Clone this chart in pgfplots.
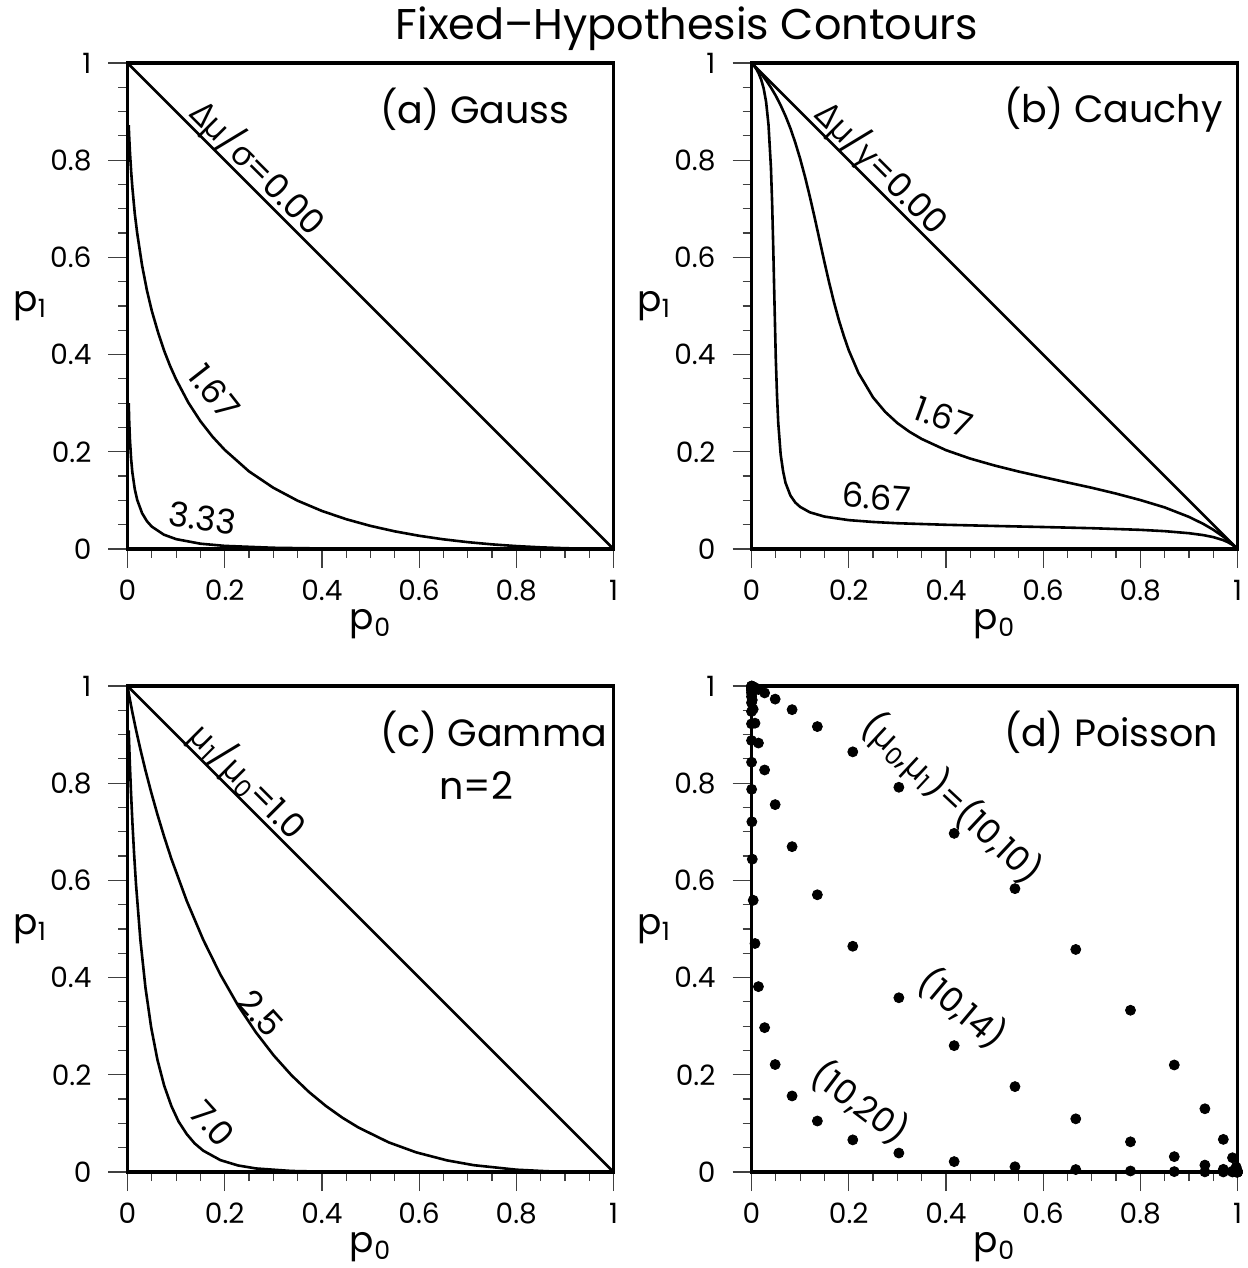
\documentclass[border=0pt]{standalone}
\usepackage{pgfplots}
\pgfplotsset{compat=1.18}
\usepackage{fontspec}
\setmainfont{Poppins}
\newfontfamily\gr{Open Sans}
\newcommand\ticksize{\fontsize{14}{16}\selectfont}
\newcommand\labsize{\fontsize{18}{20}\selectfont}
\newcommand\pansize{\fontsize{19}{22}\selectfont}
\newcommand\curvsize{\fontsize{17}{19}\selectfont}
\newcommand\titsize{\fontsize{21.5}{24}\selectfont}
\tikzset{
  plab/.style={font=\pansize, anchor=west},
  clab/.style={font=\curvsize},
}
\pgfplotsset{
  panel/.style={
    scale only axis, width=243pt, height=243pt,
    xmin=0, xmax=1, ymin=0, ymax=1,
    axis line style={line width=1.6pt},
    xtick={0,0.2,0.4,0.6,0.8,1}, ytick={0,0.2,0.4,0.6,0.8,1},
    minor tick num=3,
    tick align=outside,
    xtick pos=left, ytick pos=left,
    major tick length=9.5pt, minor tick length=4.5pt,
    every tick/.style={line width=0.6pt, black!75},
    tick label style={font=\ticksize},
    yticklabel style={xshift=-5pt},
    xticklabel style={yshift=-2.5pt},
    /pgf/number format/assume math mode=true,
    xlabel={p\textsubscript{0}}, ylabel={p\textsubscript{1}},
    every axis x label/.style={at={(axis description cs:0.5,-0.155)}, anchor=center, font=\labsize},
    every axis y label/.style={at={(axis description cs:-0.2,0.5)}, anchor=center, font=\labsize},
    cycle list={{black, line width=1.3pt, mark=none}},
    clip mode=individual,
  },
  curve/.style={black, line width=1.3pt, mark=none, line join=round},
  dots/.style={black, only marks, mark=*, mark size=2.5pt},
}
\begin{document}
\begin{tikzpicture}
\useasboundingbox (0,0) rectangle (623.5pt,634pt);
\node[font=\titsize, anchor=base] at (343.5pt,614pt) {Fixed--Hypothesis Contours};

% (a) Gauss
\begin{axis}[panel, at={(63.75pt,359.5pt)}, anchor=south west]
\addplot[curve] coordinates {(0,1) (1,0)};
\addplot[curve] coordinates {(0.0025,0.872) (0.0035,0.848) (0.005,0.8175) (0.0075,0.777) (0.01,0.744) (0.015,0.690) (0.02,0.6495) (0.03,0.5835) (0.04,0.532) (0.05,0.490) (0.0625,0.447) (0.075,0.409) (0.0875,0.377) (0.1,0.349) (0.125,0.3015) (0.15,0.263) (0.175,0.231) (0.2,0.204) (0.25,0.1597) (0.3,0.126) (0.35,0.0994) (0.4,0.0783) (0.45,0.0613) (0.5,0.0475) (0.55,0.0363) (0.6,0.0272) (0.65,0.0199) (0.7,0.0141) (0.75,0.0095) (0.8,0.0060) (0.85,0.0034) (0.9,0.0016) (0.95,0.0005) (1,0)};
\addplot[curve] coordinates {(0.0025,0.300) (0.0035,0.2634) (0.005,0.2254) (0.0075,0.1846) (0.01,0.1577) (0.015,0.1230) (0.02,0.101) (0.03,0.0737) (0.04,0.0572) (0.05,0.046) (0.075,0.0294) (0.1,0.0203) (0.15,0.0109) (0.2,0.0064) (0.3,0.0025) (0.4,0.00105) (0.5,0.00043) (0.6,0.00016) (0.8,0.00001) (1,0)};
\node[plab] at (axis cs:0.505,0.905) {(a) Gauss};
\node[clab, rotate=-45, anchor=base, yshift=3pt] at (axis cs:0.242,0.758) {{\gr Δμ}/{\gr σ}=0.00};
\node[clab, rotate=-52] at (axis cs:0.179,0.323) {1.67};
\node[clab, rotate=-8] at (axis cs:0.154,0.064) {3.33};
\end{axis}

% (b) Cauchy
\begin{axis}[panel, at={(375.75pt,359.5pt)}, anchor=south west]
\addplot[curve] coordinates {(0,1) (1,0)};
\addplot[curve] coordinates {(0,1) (0.005,0.9949) (0.01,0.9894) (0.02,0.9777) (0.03,0.9644) (0.04,0.9495) (0.05,0.9325) (0.06,0.9129) (0.07,0.8909) (0.08,0.8657) (0.09,0.8364) (0.10,0.8033) (0.11,0.7662) (0.12,0.7252) (0.13,0.6815) (0.14,0.6360) (0.15,0.5906) (0.16,0.5471) (0.17,0.5067) (0.18,0.4701) (0.19,0.4382) (0.20,0.4091) (0.22,0.3624) (0.235,0.3373) (0.25,0.3120) (0.275,0.2822) (0.30,0.2592) (0.325,0.2412) (0.35,0.2265) (0.40,0.2034) (0.45,0.1860) (0.50,0.1718) (0.55,0.1593) (0.60,0.1480) (0.65,0.1369) (0.70,0.1260) (0.75,0.1140) (0.80,0.1007) (0.85,0.0856) (0.90,0.0661) (0.93,0.0514) (0.95,0.0397) (0.97,0.0259) (0.98,0.0181) (0.99,0.0095) (1,0)};
\addplot[curve] coordinates {(0,1) (0.005,0.9944) (0.01,0.9874) (0.015,0.9781) (0.02,0.9656) (0.025,0.9477) (0.03,0.9203) (0.035,0.8726) (0.04,0.7847) (0.0425,0.710) (0.045,0.6090) (0.0475,0.497) (0.05,0.3911) (0.0525,0.316) (0.055,0.2598) (0.06,0.1945) (0.065,0.160) (0.07,0.1361) (0.08,0.1101) (0.09,0.0957) (0.10,0.0867) (0.12,0.0755) (0.15,0.0667) (0.2,0.0594) (0.25,0.0556) (0.3,0.0530) (0.4,0.0498) (0.5,0.0474) (0.6,0.0452) (0.7,0.0428) (0.8,0.0394) (0.85,0.0367) (0.9,0.0325) (0.93,0.0285) (0.95,0.0245) (0.97,0.0184) (0.98,0.0141) (0.99,0.0083) (1,0)};
\node[plab] at (axis cs:0.505,0.905) {(b) Cauchy};
\node[clab, rotate=-45, anchor=base, yshift=3pt] at (axis cs:0.242,0.758) {{\gr Δμ}/{\gr γ}=0.00};
\node[clab, rotate=-20] at (axis cs:0.395,0.272) {1.67};
\node[clab, rotate=-4] at (axis cs:0.257,0.107) {6.67};
\end{axis}

% (c) Gamma
\begin{axis}[panel, at={(63.75pt,48pt)}, anchor=south west]
\addplot[curve] coordinates {(0,1) (1,0)};
\addplot[curve] coordinates {(0,1) (0.0012,0.9928) (0.002471,0.9856) (0.004679,0.9735) (0.010186,0.9450) (0.017523,0.9098) (0.026499,0.8698) (0.036936,0.8266) (0.048671,0.7816) (0.061552,0.7358) (0.075439,0.6899) (0.090204,0.6446) (0.121901,0.5578) (0.155805,0.4779) (0.191208,0.4060) (0.227518,0.3425) (0.264241,0.2873) (0.300971,0.2397) (0.337373,0.1991) (0.373176,0.1648) (0.408167,0.1359) (0.442175,0.1117) (0.475069,0.0916) (0.537163,0.0611) (0.593994,0.0404) (0.657453,0.0239) (0.712703,0.0140) (0.800852,0.0047) (0.864112,0.0015) (0.908422,0.0005) (0.959572,0.00005) (1,0)};
\addplot[curve] coordinates {(0.002471,0.9086) (0.004679,0.8442) (0.007191,0.7816) (0.010186,0.7174) (0.013638,0.6536) (0.017523,0.5918) (0.026499,0.4779) (0.036936,0.3796) (0.048671,0.2977) (0.061552,0.2311) (0.075439,0.1778) (0.090204,0.1359) (0.105,0.1040) (0.121901,0.0780) (0.138,0.0590) (0.155805,0.0439) (0.191208,0.0244) (0.227518,0.0134) (0.264241,0.0073) (0.337373,0.0021) (0.408167,0.0006) (0.506754,0.0001) (0.593994,0.00001) (0.8,0) (1,0)};
\node[plab] at (axis cs:0.505,0.905) {(c) Gamma};
\node[font=\pansize] at (axis cs:0.718,0.796) {n=2};
\node[clab, rotate=-45, anchor=base, yshift=3pt] at (axis cs:0.2225,0.7775) {{\gr μ}\textsubscript{1}/{\gr μ}\textsubscript{0}=1.0};
\node[clab, rotate=-48] at (axis cs:0.275,0.327) {2.5};
\node[clab, rotate=-48] at (axis cs:0.175,0.10) {7.0};
\end{axis}

% (d) Poisson
\begin{axis}[panel, at={(375.75pt,48pt)}, anchor=south west, clip=false]
\addplot[dots] coordinates {(1,0.00005) (0.99995,0.0005) (0.9995,0.0028) (0.9972,0.0103) (0.9897,0.0293) (0.9708,0.0671) (0.9329,0.1301) (0.8699,0.2202) (0.7798,0.3328) (0.6672,0.4579) (0.5421,0.5830) (0.4170,0.6968) (0.3032,0.7916) (0.2084,0.8645) (0.1355,0.9165) (0.0835,0.9513) (0.0487,0.9730) (0.0270,0.9857) (0.0143,0.9928) (0.0072,0.9965) (0.0035,0.9984) (0.0016,0.9993) (0.0007,0.9997) (0.0003,0.9999)};
\addplot[dots] coordinates {(1,0) (0.99995,0.00001) (0.9995,0.0001) (0.9972,0.0005) (0.9897,0.0018) (0.9708,0.0055) (0.9329,0.0142) (0.8699,0.0316) (0.7798,0.0621) (0.6672,0.1094) (0.5421,0.1757) (0.4170,0.2600) (0.3032,0.3585) (0.2084,0.4645) (0.1355,0.5704) (0.0835,0.6694) (0.0487,0.7559) (0.0270,0.8272) (0.0143,0.8826) (0.0072,0.9235) (0.0035,0.9521) (0.0016,0.9712) (0.0007,0.9833) (0.0003,0.9907) (0.00012,0.9950) (0.00005,0.9974) (0.00002,0.9987) (0.00001,0.9994)};
\addplot[dots] coordinates {(1,0) (0.99995,0) (0.9995,0) (0.9972,0) (0.9897,0.00002) (0.9708,0.00007) (0.9329,0.0003) (0.8699,0.0008) (0.7798,0.0021) (0.6672,0.0050) (0.5421,0.0108) (0.4170,0.0214) (0.3032,0.0390) (0.2084,0.0661) (0.1355,0.1049) (0.0835,0.1565) (0.0487,0.2211) (0.0270,0.2970) (0.0143,0.3814) (0.0072,0.4702) (0.0035,0.5591) (0.0016,0.6437) (0.0007,0.7206) (0.0003,0.7874) (0.00012,0.8432) (0.00005,0.8878) (0.00002,0.9221) (0.00001,0.9475) (0,0.9656) (0,0.9781) (0,0.9865) (0,0.9918) (0,0.9952) (0,0.9972) (0,0.9984) (0,0.9991)};
\node[plab] at (axis cs:0.505,0.905) {(d) Poisson};
\node[clab, rotate=-43] at (axis cs:0.412,0.769) {({\gr μ}\textsubscript{0},{\gr μ}\textsubscript{1})=(10,10)};
\node[clab, rotate=-40] at (axis cs:0.434,0.337) {(10,14)};
\node[clab, rotate=-37] at (axis cs:0.223,0.143) {(10,20)};
\end{axis}
\end{tikzpicture}
\end{document}
